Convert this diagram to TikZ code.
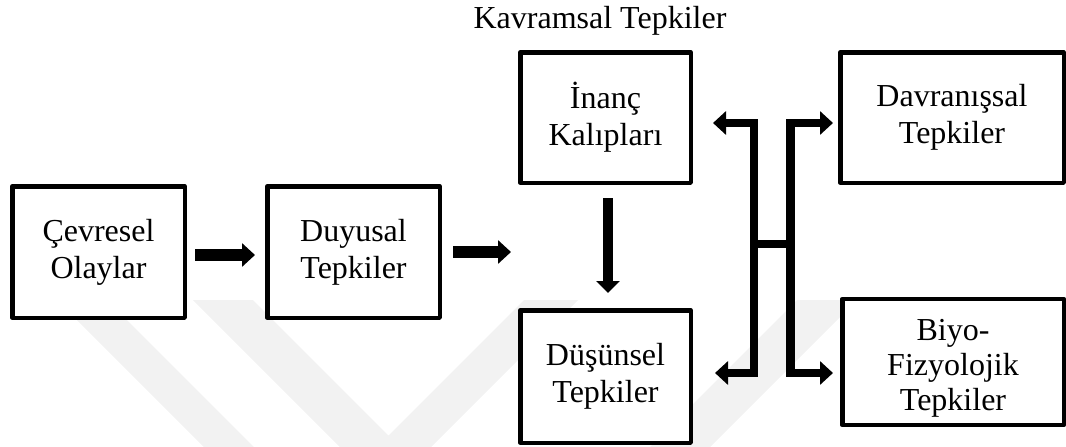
\documentclass[tikz,border=0pt]{standalone}
\usepackage{fontspec}
\setmainfont{Liberation Serif}
\usetikzlibrary{arrows.meta}
\begin{document}
\begin{tikzpicture}[x=1pt,y=-1pt,
  box/.style={draw=black, line width=4.5pt, fill=white, line join=round,
    inner sep=0pt, align=center, font=\fontsize{32}{37}\selectfont},
  boxtext/.style={inner sep=0pt, align=center, font=\fontsize{32}{35}\selectfont},
  headline/.style={font=\fontsize{32}{37}\selectfont},
  flow/.style={line width=12pt, -{Triangle[width=23pt,length=13pt]}},
  flowv/.style={line width=10pt, -{Triangle[width=23pt,length=12pt]}},
  link/.style={line width=8.5pt, line join=miter,
    {Triangle[width=23pt,length=13pt]}-{Triangle[width=23pt,length=13pt]}},
  emblem/.style={fill=black!5}]
\useasboundingbox (0,0) rectangle (1066,447);

% faint background emblem
\begin{scope}
  \clip (0,0) rectangle (1066,447);
  \fill[emblem] (57,300) -- (107,300) -- (254,447) -- (204,447) -- cycle;
  \fill[emblem] (193,300) -- (253,300) -- (388.5,435.5) -- (524,300) -- (578,300)
    -- (385.5,492.5) -- cycle;
  \fill[emblem] (797,300) -- (857,300) -- (710,447) -- (650,447) -- cycle;
\end{scope}

% boxes
\node[box, minimum width=172.5pt, minimum height=131.5pt] (cev) at (98.5,252) {Çevresel\\Olaylar};
\node[box, minimum width=172.5pt, minimum height=131.5pt] (duy) at (353.5,252) {Duyusal\\Tepkiler};
\node[box, minimum width=170.5pt, minimum height=130.5pt] (inanc) at (605.5,117.5) {İnanç\\Kalıpları};
\node[box, minimum width=170.5pt, minimum height=132.5pt] (dus) at (605.5,376.5) {Düşünsel\\Tepkiler};
\node[box, minimum width=223.5pt, minimum height=130.5pt] (dav) at (952,117.5) {Davranışsal\\Tepkiler};
\node[box, minimum width=221.5pt, minimum height=126pt] (biyo) at (953,362) {};
\node[boxtext] (biyotext) at (953,368) {Biyo-\\Fizyolojik\\Tepkiler};

\node[headline, anchor=base] (kav) at (600,28) {Kavramsal Tepkiler};

% main flow
\coordinate (kin) at (511,252);
\draw[flow, shorten <=8pt, shorten >=10pt] ([yshift=-3pt]cev.east) -- ([yshift=-3pt]duy.west);
\draw[flow, shorten <=11pt] (duy.east) -- (kin);
\draw[flowv, shorten <=13pt, shorten >=15pt] ([xshift=2.5pt]inanc.south) -- ([xshift=2.5pt]dus.north);

% branching bracket
\coordinate (lt) at (754,123);
\coordinate (lb) at (754,373);
\coordinate (rt) at (790.5,123);
\coordinate (rb) at (790.5,373);
\coordinate (lm) at (754,244);
\coordinate (rm) at (790.5,244);
\draw[link, shorten <=20pt, shorten >=22pt] (inanc.east |- lt) -- (lt) -- (lb) -- (dus.east |- lb);
\draw[link, shorten <=5pt, shorten >=7pt] (dav.west |- rt) -- (rt) -- (rb) -- (biyo.west |- rb);
\draw[line width=8pt] (lm) -- (rm);
\end{tikzpicture}
\end{document}
